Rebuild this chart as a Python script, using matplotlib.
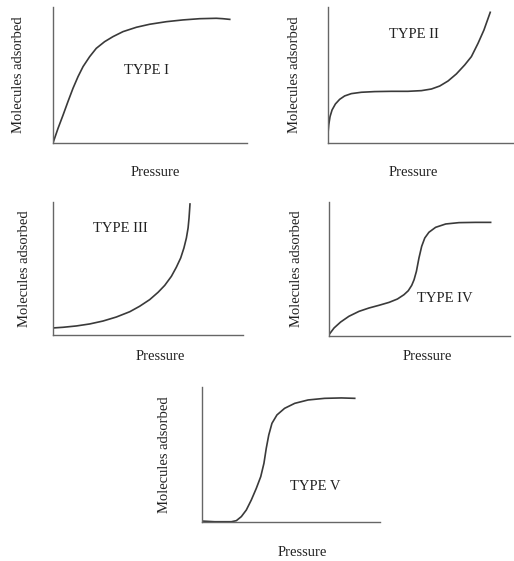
import matplotlib.pyplot as plt

# Tipe isoterm adsorpsi (I - V), kurva dibaca dari gambar
# x = tekanan (relatif 0..1 terhadap sumbu), y = molekul teradsorpsi

tipe1_x = [0, 0.026, 0.052, 0.077, 0.103, 0.129, 0.155, 0.189, 0.223, 0.266,
           0.309, 0.361, 0.43, 0.498, 0.584, 0.67, 0.756, 0.842, 0.876, 0.911]
tipe1_y = [0, 0.108, 0.206, 0.304, 0.402, 0.488, 0.562, 0.635, 0.696, 0.745,
           0.782, 0.819, 0.851, 0.873, 0.892, 0.905, 0.914, 0.917, 0.914, 0.909]

tipe2_x = [0, 0.004, 0.011, 0.022, 0.04, 0.063, 0.09, 0.126, 0.18, 0.252, 0.342,
           0.432, 0.505, 0.559, 0.604, 0.649, 0.694, 0.739, 0.775, 0.811, 0.843, 0.877]
tipe2_y = [0.071, 0.133, 0.194, 0.243, 0.287, 0.321, 0.346, 0.363, 0.373, 0.378, 0.380,
           0.380, 0.385, 0.397, 0.419, 0.456, 0.508, 0.574, 0.635, 0.733, 0.831, 0.961]

tipe3_x = [0, 0.053, 0.123, 0.193, 0.263, 0.333, 0.404, 0.456, 0.509, 0.553,
           0.588, 0.623, 0.649, 0.672, 0.689, 0.702, 0.711, 0.716, 0.719, 0.721]
tipe3_y = [0.053, 0.058, 0.068, 0.083, 0.105, 0.135, 0.175, 0.216, 0.266, 0.321,
           0.373, 0.441, 0.509, 0.579, 0.654, 0.729, 0.805, 0.88, 0.942, 0.985]

tipe4_x = [0, 0.028, 0.064, 0.11, 0.166, 0.221, 0.276, 0.332, 0.378, 0.414, 0.438, 0.457,
           0.47, 0.483, 0.497, 0.512, 0.529, 0.552, 0.589, 0.645, 0.718, 0.81, 0.893]
tipe4_y = [0.01, 0.06, 0.104, 0.147, 0.184, 0.209, 0.229, 0.251, 0.276, 0.308, 0.338, 0.378,
           0.42, 0.483, 0.582, 0.669, 0.731, 0.774, 0.811, 0.836, 0.846, 0.848, 0.848]

tipe5_x = [0, 0.071, 0.165, 0.193, 0.221, 0.249, 0.277, 0.305, 0.33, 0.348,
           0.361, 0.375, 0.393, 0.421, 0.464, 0.521, 0.596, 0.689, 0.783, 0.858]
tipe5_y = [0.007, 0.002, 0.002, 0.01, 0.04, 0.089, 0.163, 0.249, 0.336, 0.435,
           0.546, 0.644, 0.731, 0.793, 0.842, 0.879, 0.904, 0.916, 0.919, 0.916]

judul = ["TYPE I", "TYPE II", "TYPE III", "TYPE IV", "TYPE V"]

W, H = 514, 561
plt.rcParams['font.family'] = ['Liberation Serif', 'DejaVu Serif']
fig = plt.figure(figsize=(W / 100, H / 100), dpi=100)

# (kiri, atas, kanan, bawah) tiap panel dalam piksel
kotak = [
    (53, 7, 247, 143),
    (328, 7, 513, 143),
    (53, 202, 243, 335),
    (329, 202, 510, 336),
    (202, 387, 380, 522),
]
# posisi teks: label judul, label "Pressure", label sumbu y
pos_judul = [(146, 70), (414, 35), (120, 228), (445, 299), (315, 487)]
pos_tekanan = [(155, 172), (413, 172), (160, 357), (427, 356), (302, 553)]
pos_ylabel = [(19, 75), (295, 75), (25, 269), (297, 269), (165, 455)]

data = [(tipe1_x, tipe1_y), (tipe2_x, tipe2_y), (tipe3_x, tipe3_y),
        (tipe4_x, tipe4_y), (tipe5_x, tipe5_y)]

def px(x, y):
    return x / W, 1 - y / H

for i, (l, t, r, b) in enumerate(kotak):
    ax = fig.add_axes([l / W, 1 - b / H, (r - l) / W, (b - t) / H])
    xs, ys = data[i]
    ax.plot(xs, ys, color='#3a3a3a', lw=1.2, solid_joinstyle='round')
    ax.set_xlim(0, 1)
    ax.set_ylim(0, 1)
    ax.set_xticks([])
    ax.set_yticks([])
    for s in ['top', 'right']:
        ax.spines[s].set_visible(False)
    for s in ['left', 'bottom']:
        ax.spines[s].set_color('#666666')
        ax.spines[s].set_linewidth(1.0)
    ax.patch.set_alpha(0)

    fig.text(*px(*pos_judul[i]), judul[i], ha='center', va='center', fontsize=10.5, color='#222222')
    fig.text(*px(*pos_tekanan[i]), "Pressure", ha='center', va='center', fontsize=10.5, color='#222222')
    fig.text(*px(*pos_ylabel[i]), "Molecules adsorbed", ha='center', va='center',
             rotation=90, fontsize=10.5, color='#222222')

fig.savefig("out.png", dpi=100)
